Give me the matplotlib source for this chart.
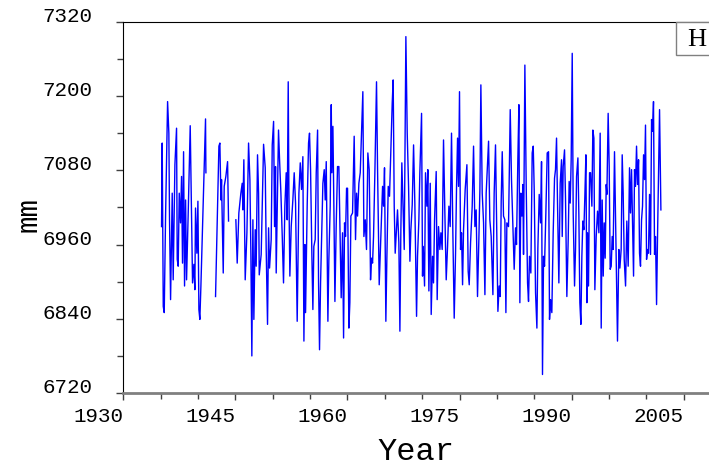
import numpy as np
import matplotlib
matplotlib.use("Agg")
import matplotlib.pyplot as plt
from matplotlib.patches import Rectangle

# data (decimal year, level in mm); NaN marks the gaps
years = [
    1935.11, 1935.20, 1935.34, 1935.47, 1935.65, 1935.92, 1936.09, 1936.18, 1936.32, 1936.54,
    1936.67, 1936.90, 1937.12, 1937.21, 1937.34, 1937.48, 1937.65, 1937.79, 1937.92, 1938.06,
    1938.19, 1938.33, 1938.46, 1938.68, 1938.95, 1939.13, 1939.26, 1939.44, 1939.57, 1939.66,
    1939.84, 1939.98, 1940.11, 1940.24, 1940.38, 1940.60, 1940.82, 1941.00, 1941.05,
    1941.70,
    1942.34, 1942.79, 1942.92, 1943.06, 1943.14, 1943.37, 1943.50, 1943.72, 1943.95, 1944.08,
    1944.60,
    1945.06, 1945.24, 1945.46, 1945.73, 1945.91,
    1946.00, 1946.13, 1946.31, 1946.54, 1946.76, 1946.94, 1947.07, 1947.20, 1947.34, 1947.47,
    1947.65, 1947.78, 1947.96, 1948.10, 1948.19, 1948.45, 1948.77, 1948.99, 1949.12, 1949.30,
    1949.44, 1949.57, 1949.79, 1949.93, 1950.11, 1950.24, 1950.37, 1950.46, 1950.64, 1950.77,
    1950.91, 1951.09, 1951.27, 1951.44, 1951.62, 1951.80, 1951.93, 1952.07, 1952.16, 1952.29,
    1952.47, 1952.69, 1952.87, 1953.05, 1953.27, 1953.50, 1953.68, 1953.85, 1954.03, 1954.17,
    1954.30, 1954.39, 1954.61, 1954.79, 1954.92, 1955.06, 1955.24, 1955.37, 1955.50, 1955.68,
    1955.82, 1956.00, 1956.13, 1956.26, 1956.40, 1956.58, 1956.71, 1956.89, 1957.02, 1957.16,
    1957.38, 1957.51, 1957.69, 1957.83,
    1957.91, 1958.05, 1958.18, 1958.32, 1958.49, 1958.67, 1958.85, 1959.03, 1959.16, 1959.34,
    1959.48, 1959.61, 1959.74, 1959.88, 1960.01, 1960.19, 1960.32, 1960.46, 1960.68, 1960.90,
    1961.08, 1961.22, 1961.35, 1961.53, 1961.71, 1961.89, 1962.06, 1962.20, 1962.38, 1962.55,
    1962.73, 1962.91, 1963.09, 1963.22, 1963.36, 1963.49, 1963.67, 1963.89, 1964.03, 1964.25,
    1964.47, 1964.70, 1964.83, 1964.96, 1965.14, 1965.28, 1965.46, 1965.63, 1965.81, 1965.99,
    1966.12, 1966.26, 1966.39, 1966.53, 1966.70, 1966.88, 1967.02, 1967.15, 1967.28, 1967.46,
    1967.60, 1967.82, 1968.00, 1968.18, 1968.36, 1968.49, 1968.67, 1968.85, 1969.02, 1969.25,
    1969.38, 1969.56,
    1969.69, 1969.92, 1970.05, 1970.14, 1970.32, 1970.45, 1970.63, 1970.76, 1970.90, 1971.08,
    1971.21, 1971.39, 1971.52, 1971.66, 1971.88, 1972.01, 1972.19, 1972.37, 1972.51, 1972.68,
    1972.86, 1973.04, 1973.22, 1973.40, 1973.58, 1973.75, 1973.93, 1974.11, 1974.29, 1974.47,
    1974.60, 1974.74, 1974.87, 1975.00, 1975.14, 1975.27, 1975.41, 1975.54, 1975.76, 1975.99,
    1976.16, 1976.30, 1976.48, 1976.70, 1976.88, 1977.06, 1977.23, 1977.41, 1977.59, 1977.73,
    1977.86, 1978.04, 1978.22, 1978.40, 1978.57, 1978.75, 1978.89, 1979.06, 1979.24, 1979.47,
    1979.64, 1979.82, 1979.96, 1980.14, 1980.31, 1980.45, 1980.58, 1980.72, 1980.89, 1981.07,
    1981.21,
    1981.34, 1981.56, 1981.79, 1981.96, 1982.14, 1982.32, 1982.50, 1982.63, 1982.81, 1982.95,
    1983.08, 1983.21, 1983.35, 1983.48, 1983.57, 1983.75, 1983.93, 1984.11, 1984.24, 1984.37,
    1984.55, 1984.73, 1984.87, 1985.00, 1985.18, 1985.36, 1985.49, 1985.67, 1985.85, 1985.98,
    1986.11, 1986.25, 1986.38, 1986.56, 1986.74, 1986.92, 1987.05, 1987.19, 1987.36, 1987.54,
    1987.72, 1987.85, 1987.99, 1988.12, 1988.30, 1988.48, 1988.66, 1988.75, 1988.88, 1989.06,
    1989.19, 1989.37, 1989.55, 1989.68, 1989.82, 1989.95, 1990.09, 1990.22, 1990.40, 1990.53,
    1990.67, 1990.85, 1990.98, 1991.11, 1991.25, 1991.38, 1991.51, 1991.65, 1991.78, 1991.92,
    1992.05, 1992.14, 1992.27, 1992.41, 1992.54, 1992.72, 1992.85, 1992.99,
    1993.12, 1993.30, 1993.48, 1993.66, 1993.83, 1993.97, 1994.10, 1994.24, 1994.37, 1994.50,
    1994.64, 1994.73, 1994.90, 1995.04, 1995.17, 1995.31, 1995.44, 1995.57, 1995.75, 1995.93,
    1996.15, 1996.33, 1996.47, 1996.64, 1996.78, 1996.91, 1997.05, 1997.23, 1997.40, 1997.58,
    1997.76, 1997.89, 1998.03, 1998.16, 1998.30, 1998.43, 1998.56, 1998.70, 1998.83, 1998.97,
    1999.10, 1999.23, 1999.37, 1999.50, 1999.64, 1999.77, 1999.90, 2000.04, 2000.17, 2000.30,
    2000.44, 2000.57, 2000.71, 2000.84, 2000.97, 2001.11, 2001.24, 2001.38, 2001.51, 2001.65,
    2001.78, 2001.96,
]

level_mm = [
    6989, 7124, 6860, 6850, 7006, 7191, 7140, 7000, 6871, 7043,
    6903, 7089, 7148, 6936, 6925, 7043, 6995, 7070, 6930, 7110,
    6893, 7032, 6903, 7011, 7152, 7000, 6898, 6928, 6887, 7019,
    6946, 7030, 6855, 6839, 6893, 6987, 7081, 7163, 7076,
    np.nan,
    6876, 7119, 7124, 7032, 7065, 6914, 7054, 7070, 7094, 6998,
    np.nan,
    7000, 6930, 7011, 7043, 7059,
    7016, 7097, 6903, 6979, 7124, 7065, 6946, 6780, 7000, 6839,
    6984, 6925, 7105, 7043, 6911, 6944, 7122, 7084, 6952, 6831,
    6987, 6922, 6968, 7121, 7159, 6989, 7086, 6914, 7043, 7145,
    7097, 7043, 6973, 6898, 7022, 7076, 7000, 7223, 7043, 6909,
    6989, 7032, 7076, 7027, 6836, 7043, 7092, 7049, 7102, 6804,
    6960, 6850, 7024, 7124, 7140, 7081, 6941, 6855, 6957, 6968,
    7076, 7145, 6898, 6790, 6898, 6995, 7059, 7081, 7032, 7094,
    6836, 6936, 7022, 7186,
    7076, 7151, 7022, 6868, 6989, 7086, 7086, 6957, 6874, 6979,
    6809, 6995, 6973, 7051, 7051, 6825, 6866, 7006, 7011, 7135,
    6968, 7043, 7006, 7059, 7076, 7143, 7207, 6973, 7000, 6952,
    7108, 7081, 6903, 6938, 6930, 6973, 7076, 7223, 7081, 6895,
    6973, 7054, 7022, 7084, 6836, 6941, 7054, 7038, 7113, 7188,
    7226, 7022, 6946, 6979, 7016, 6963, 6820, 6984, 7092, 7016,
    6952, 7296, 7140, 7054, 6933, 6984, 7024, 7121, 7027, 6844,
    6941, 7000,
    7076, 7172, 6909, 6957, 6893, 7076, 7022, 7081, 6885, 7059,
    6847, 6941, 6898, 7000, 7078, 6871, 6989, 6952, 6979, 6952,
    7129, 7011, 6903, 6957, 7022, 6989, 7140, 6979, 6841, 6946,
    7051, 7132, 7054, 7207, 6952, 6979, 6895, 6984, 7049, 7089,
    6917, 6895, 6963, 7022, 7119, 6989, 7016, 6876, 6968, 7049,
    7218, 7043, 6995, 6879, 7043, 7089, 7127, 7000, 6973, 6879,
    7043, 7121, 7006, 6852, 6893, 6876, 7030, 7110, 7006, 7000,
    6850,
    6995, 6989, 7178, 7065, 6995, 6920, 6987, 6960, 7097, 7186,
    6866, 7043, 7006, 7057, 6944, 7250, 7054, 6898, 6868, 6941,
    6914, 7108, 7119, 7049, 6882, 6825, 6954, 7041, 6995, 7094,
    6750, 6941, 6925, 7011, 7108, 7110, 6839, 6871, 6850, 6979,
    7067, 7081, 7132, 7027, 6898, 7059, 7097, 6973, 7086, 7113,
    7035, 6876, 6968, 7062, 7027, 7097, 7269, 7011, 6893, 6952,
    7070, 7100, 7006, 6866, 6831, 6941, 6998, 6984, 7038, 7105,
    6866, 6979, 6893, 7076, 7076, 7022, 7145, 7132,
    6887, 6973, 7014, 6979, 7140, 6825, 7032, 6909, 6995, 6938,
    7057, 7041, 7172, 7086, 6920, 6925, 6973, 6952, 7110, 6973,
    6804, 6952, 6922, 6952, 7105, 7043, 6936, 6893, 6998, 6925,
    7084, 7011, 7081, 7000, 6909, 7081, 7054, 7119, 7057, 7097,
    6946, 6925, 7000, 7022, 7105, 7065, 7153, 6936, 6952, 6946,
    7041, 6944, 7162, 7143, 7191, 6944, 6973, 6863, 6973, 7076,
    7178, 7016,
]

x_major = [1930, 1945, 1960, 1975, 1990, 2005]
x_minor = list(range(1930, 2010, 5))
y_major = [6720, 6840, 6960, 7080, 7200, 7320]
y_minor = list(range(6720, 7321, 60))
x_limits = (1930, 2008.4)
y_limits = (6720, 7320)
panel_tag = "H"

plt.rcParams["font.family"] = ["Liberation Mono", "DejaVu Sans Mono"]

fig = plt.figure(figsize=(7.09, 4.73), dpi=100)
ax = fig.add_axes([0.174, 0.169, 0.826, 0.785])

ax.plot(years, level_mm, color="#0000ff", linewidth=1.0)

ax.set_xlim(*x_limits)
ax.set_ylim(*y_limits)
ax.set_xticks(x_major)
ax.set_xticks(x_minor, minor=True)
ax.set_yticks(y_major)
ax.set_yticks(y_minor, minor=True)

ax.spines["right"].set_visible(False)
ax.spines["left"].set_color("black")
ax.spines["top"].set_color("black")
ax.spines["bottom"].set_color("#808080")
ax.spines["bottom"].set_linewidth(2)

ax.tick_params(axis="both", which="both", direction="out", color="#404040")
ax.tick_params(axis="both", which="major", length=5, width=1, labelsize=15)
ax.tick_params(axis="both", which="minor", length=4, width=1)
ax.tick_params(axis="x", which="major", pad=5)
ax.tick_params(axis="y", which="major", pad=17)

for lab in ax.get_xticklabels():
    lab.set_horizontalalignment("right")
for lab in ax.get_yticklabels():
    lab.set_verticalalignment("baseline")

ax.set_xlabel("Year", fontsize=23, labelpad=8)
ax.set_ylabel("mm", fontsize=21)
ax.yaxis.set_label_coords(-0.138, 0.48)

# panel tag box in the top right corner, running off the edge
ax.add_patch(Rectangle((0.944, 0.911), 0.1, 0.089, transform=ax.transAxes,
                       fc="white", ec="#808080", lw=1, clip_on=False, zorder=5))
ax.text(0.963, 0.952, panel_tag, transform=ax.transAxes, fontsize=19,
        family="Liberation Serif", ha="left", va="center", zorder=6)

fig.savefig("out.png", dpi=100)
